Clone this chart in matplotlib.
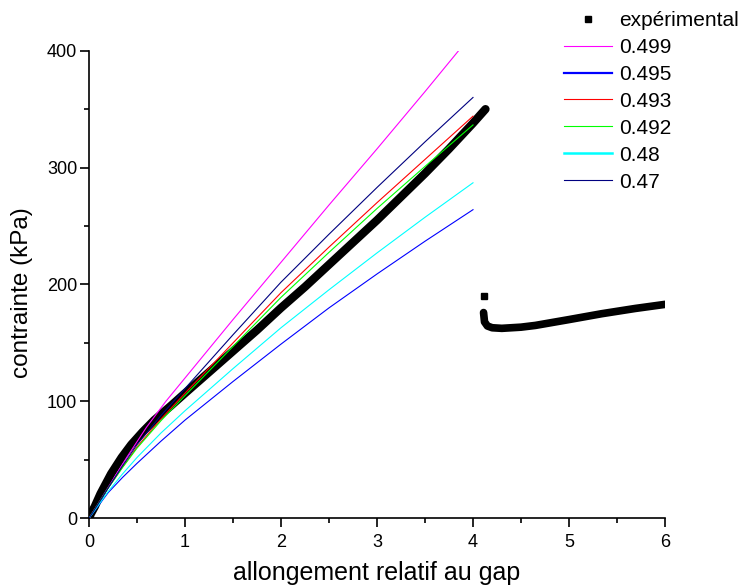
import matplotlib
matplotlib.use("Agg")
import matplotlib.pyplot as plt
from matplotlib.lines import Line2D
from matplotlib.ticker import MultipleLocator

plt.rcParams['font.family'] = ['Liberation Sans', 'DejaVu Sans']

# Experimental curve, loading branch (allongement, contrainte kPa)
exp_x = [0.0, 0.02, 0.06, 0.12, 0.23, 0.34, 0.44, 0.56, 0.68, 0.85, 1.0, 1.25,
         1.5, 1.75, 2.0, 2.25, 2.5, 2.75, 3.0, 3.25, 3.5, 3.75, 4.0, 4.13]
exp_y = [0.0, 4.0, 10.0, 21.0, 38.0, 52.0, 63.0, 74.0, 84.0, 96.0, 107.0, 125.0,
         143.0, 161.0, 180.0, 198.0, 217.0, 236.0, 255.0, 275.0, 295.0, 316.0, 338.0, 350.0]

# Experimental curve after rupture
rup_x = [4.11, 4.12, 4.15, 4.2, 4.3, 4.5, 4.65, 5.0, 5.34, 5.69, 6.0]
rup_y = [176.0, 168.0, 164.5, 163.0, 162.5, 163.5, 165.0, 170.0, 175.0, 179.5, 183.0]
iso_x = [4.11]
iso_y = [190.0]

# Model curves, one per Poisson ratio
m499_x = [0.0, 0.1, 0.2, 0.4, 0.6, 0.8, 1.0, 1.5, 2.0, 2.5, 3.0, 3.5, 3.85]
m499_y = [0.0, 13.0, 26.5, 53.0, 78.0, 100.0, 120.0, 170.0, 219.0, 268.0, 316.0, 365.0, 400.0]

grid_x = [0.0, 0.1, 0.2, 0.35, 0.5, 0.75, 1.0, 1.5, 2.0, 2.5, 3.0, 3.5, 4.0]
m495_y = [0.0, 11.0, 22.0, 35.0, 47.0, 66.0, 84.0, 117.0, 149.0, 180.0, 209.0, 237.0, 264.0]
m48_y = [0.0, 11.5, 23.0, 38.0, 52.0, 73.0, 92.0, 128.0, 163.0, 195.5, 227.0, 257.5, 287.0]
m493_y = [0.0, 13.0, 26.0, 44.0, 61.0, 85.0, 107.0, 150.0, 193.0, 232.0, 270.0, 307.0, 344.0]
m492_y = [0.0, 13.0, 26.0, 43.5, 60.0, 83.5, 105.0, 147.0, 189.0, 227.5, 265.0, 301.0, 336.5]
m47_y = [0.0, 13.0, 26.0, 45.0, 63.0, 88.0, 111.0, 157.0, 202.0, 243.0, 283.0, 322.0, 360.0]

labels = ['expérimental', '0.499', '0.495', '0.493', '0.492', '0.48', '0.47']
colors = ['#000000', '#FF00FF', '#0000FF', '#FF0000', '#00FF00', '#00FFFF', '#000080']

fig = plt.figure(figsize=(7.45, 5.86), dpi=100)
ax = fig.add_axes([89 / 745, 1 - 518.3 / 586, 576 / 745, 467.6 / 586])

# experimental data as a thick black trace
ax.plot(exp_x, exp_y, color='black', lw=6.0, solid_capstyle='round',
        solid_joinstyle='round', zorder=2)
ax.plot(rup_x, rup_y, color='black', lw=5.5, solid_capstyle='round',
        solid_joinstyle='round', zorder=2)
ax.plot(iso_x, iso_y, ls='none', marker='s', ms=4, color='black', zorder=2)

ax.plot(m499_x, m499_y, color=colors[1], lw=0.8, zorder=3)
ax.plot(grid_x, m495_y, color=colors[2], lw=0.8, zorder=3)
ax.plot(grid_x, m493_y, color=colors[3], lw=0.8, zorder=3)
ax.plot(grid_x, m492_y, color=colors[4], lw=0.8, zorder=3)
ax.plot(grid_x, m48_y, color=colors[5], lw=0.8, zorder=3)
ax.plot(grid_x, m47_y, color=colors[6], lw=0.8, zorder=3)

ax.set_xlim(0, 6)
ax.set_ylim(0, 400)
ax.spines['top'].set_visible(False)
ax.spines['right'].set_visible(False)
for s in ('left', 'bottom'):
    ax.spines[s].set_linewidth(1.2)
ax.xaxis.set_major_locator(MultipleLocator(1))
ax.xaxis.set_minor_locator(MultipleLocator(0.5))
ax.yaxis.set_major_locator(MultipleLocator(100))
ax.yaxis.set_minor_locator(MultipleLocator(50))
ax.tick_params(which='major', direction='out', length=6.5, width=1.2, labelsize=13)
ax.tick_params(axis='x', which='major', pad=5)
ax.tick_params(axis='y', which='major', pad=2)
ax.tick_params(which='minor', direction='out', length=3.6, width=1.2)

ax.set_xlabel('allongement relatif au gap', fontsize=18)
ax.xaxis.label.set_va('center')
ax.xaxis.set_label_coords(0.5, (518.3 - 573) / 467.6)
ax.set_ylabel('contrainte (kPa)', fontsize=17.5)
ax.yaxis.label.set_va('center')
ax.yaxis.set_label_coords((22 - 89) / 576, (518.3 - 293) / 467.6)

handles = [Line2D([], [], ls='none', marker='s', ms=4, color='black')]
for c, lw in zip(colors[1:], [0.8, 1.6, 0.8, 0.8, 1.8, 0.8]):
    handles.append(Line2D([], [], color=c, lw=lw))
fig.legend(handles, labels, loc='upper left', bbox_to_anchor=(564 / 745, 1 - 11 / 586),
           frameon=False, fontsize=15, handlelength=2.3, handletextpad=0.34,
           labelspacing=0.38, borderpad=0, borderaxespad=0)

fig.savefig('out.png', dpi=100)
